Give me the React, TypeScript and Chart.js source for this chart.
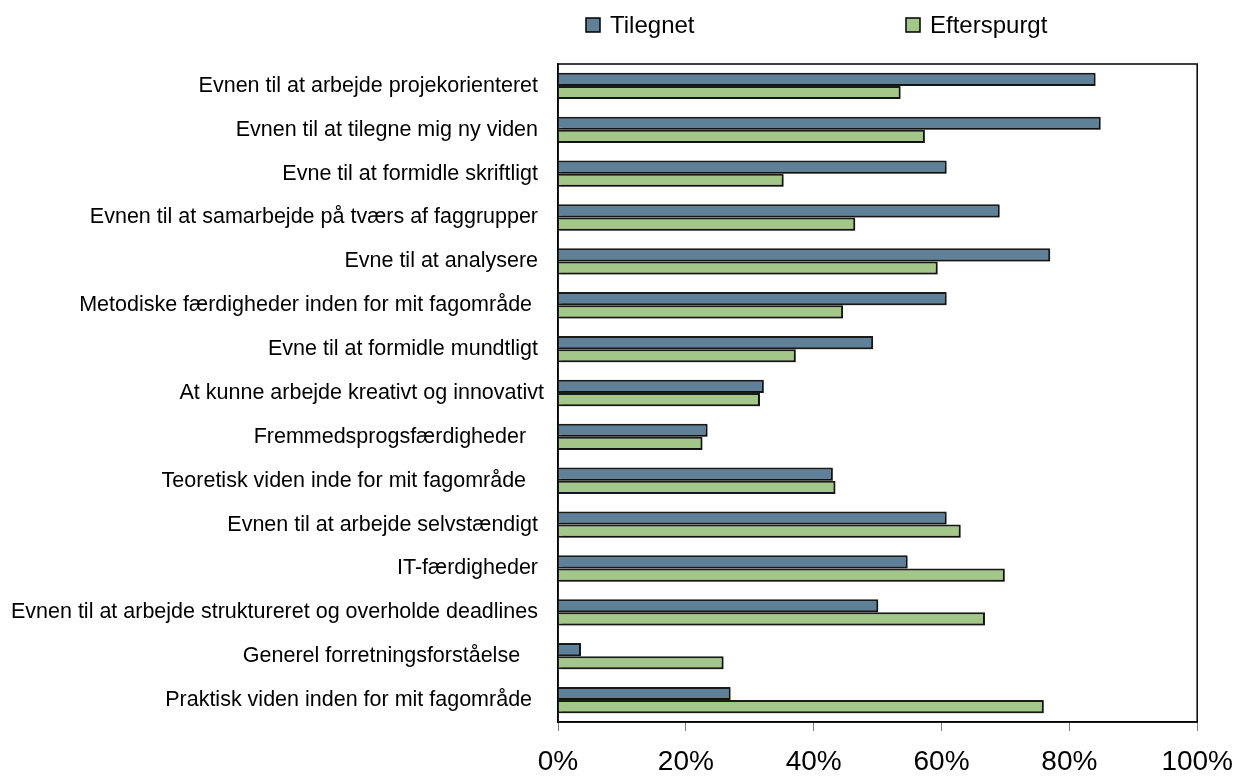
import React, { useEffect, useRef } from "react";
import { Chart, registerables } from "chart.js";

Chart.register(...registerables);

const categories = [
  "Evnen til at arbejde projekorienteret ",
  "Evnen til at tilegne mig ny viden ",
  "Evne til at formidle skriftligt ",
  "Evnen til at samarbejde på tværs af faggrupper ",
  "Evne til at analysere ",
  "Metodiske færdigheder inden for mit fagområde  ",
  "Evne til at formidle mundtligt ",
  "At kunne arbejde kreativt og innovativt",
  "Fremmedsprogsfærdigheder   ",
  "Teoretisk viden inde for mit fagområde   ",
  "Evnen til at arbejde selvstændigt ",
  "IT-færdigheder ",
  "Evnen til at arbejde struktureret og overholde deadlines ",
  "Generel forretningsforståelse    ",
  "Praktisk viden inden for mit fagområde  ",
];

const tilegnet = [84.1, 84.9, 60.8, 69.1, 77.0, 60.8, 49.3, 32.2, 23.4, 43.0, 60.8, 54.7, 50.1, 3.6, 27.0];
const efterspurgt = [53.6, 57.4, 35.3, 46.5, 59.4, 44.6, 37.2, 31.6, 22.6, 43.4, 63.0, 69.9, 66.8, 25.9, 76.0];

const seriesNames = ["Tilegnet", "Efterspurgt"];
const seriesColors = ["#5E8099", "#A3C788"];
const xTicks = [0, 20, 40, 60, 80, 100];

const FONT = "'Liberation Sans', Arial, sans-serif";

export default function App() {
  const ref = useRef<HTMLCanvasElement | null>(null);

  useEffect(() => {
    document.body.style.margin = "0";
    const canvas = ref.current;
    if (!canvas) return;

    const frame = {
      id: "frame",
      beforeDatasetsDraw(chart: any) {
        const ctx = chart.ctx;
        ctx.save();
        ctx.shadowColor = "rgba(0,0,0,0.35)";
        ctx.shadowOffsetX = 1;
        ctx.shadowOffsetY = 1;
        ctx.shadowBlur = 1;
      },
      afterDatasetsDraw(chart: any) {
        chart.ctx.restore();
      },
      afterDraw(chart: any) {
        const { ctx, chartArea } = chart;
        ctx.save();
        ctx.strokeStyle = "#000";
        ctx.lineWidth = 1.5;
        ctx.strokeRect(chartArea.left, chartArea.top, chartArea.right - chartArea.left, chartArea.bottom - chartArea.top);
        // legend
        const offsets = [28, 348];
        ctx.font = `24px ${FONT}`;
        ctx.textBaseline = "middle";
        ctx.textAlign = "left";
        chart.data.datasets.forEach((ds: any, i: number) => {
          const x = chartArea.left + offsets[i];
          const y = 25;
          ctx.fillStyle = ds.backgroundColor;
          ctx.fillRect(x, y - 7, 14, 14);
          ctx.strokeStyle = "#000";
          ctx.lineWidth = 1.5;
          ctx.strokeRect(x, y - 7, 14, 14);
          ctx.fillStyle = "#000";
          ctx.fillText(ds.label, x + 24, y + 1);
        });
        ctx.restore();
      },
    };

    const chart = new Chart(canvas, {
      type: "bar",
      data: {
        labels: categories,
        datasets: [
          {
            label: seriesNames[0],
            data: tilegnet,
            backgroundColor: seriesColors[0],
            borderColor: "#1a1a1a",
            borderWidth: 2,
          },
          {
            label: seriesNames[1],
            data: efterspurgt,
            backgroundColor: seriesColors[1],
            borderColor: "#1a1a1a",
            borderWidth: 2,
          },
        ],
      },
      options: {
        indexAxis: "y",
        responsive: false,
        animation: false,
        layout: { padding: { top: 64, right: 48, left: 0, bottom: 0 } },
        datasets: { bar: { categoryPercentage: 0.6, barPercentage: 1.0 } },
        plugins: { legend: { display: false }, tooltip: { enabled: false } },
        scales: {
          x: {
            min: 0,
            max: 100,
            afterFit: (s: any) => {
              s.height = 57;
            },
            afterBuildTicks: (s: any) => {
              s.ticks = xTicks.map((v) => ({ value: v }));
            },
            ticks: {
              callback: (v: any) => v + "%",
              color: "#000",
              font: { family: FONT, size: 28 },
              padding: 14,
              maxRotation: 0,
            },
            grid: {
              drawOnChartArea: false,
              drawTicks: true,
              tickLength: 9,
              color: "#808080",
              lineWidth: 1,
            },
            border: { display: true, color: "#000", width: 1.5 },
          },
          y: {
            afterFit: (s: any) => {
              s.width = 558;
            },
            ticks: {
              color: "#000",
              font: { family: FONT, size: 21.5 },
              padding: 14,
              autoSkip: false,
            },
            grid: { display: true, drawOnChartArea: false, drawTicks: false },
            border: { display: true, color: "#000", width: 1.5 },
          },
        },
      },
      plugins: [frame],
    } as any);

    return () => chart.destroy();
  }, []);

  return <canvas ref={ref} width={1247} height={779} style={{ display: "block" }} />;
}
